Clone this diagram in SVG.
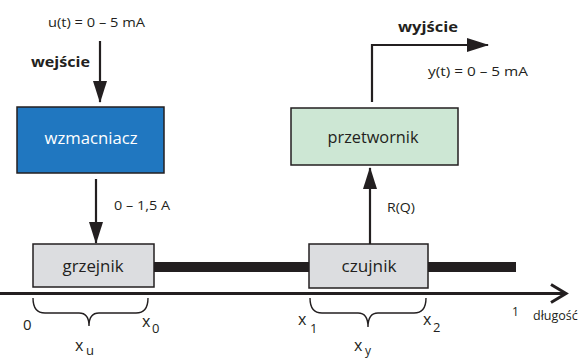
<svg xmlns="http://www.w3.org/2000/svg" width="587" height="360" viewBox="0 0 587 360">
<defs>
<style>
text{font-family:"Open Sans","Liberation Sans",sans-serif;fill:#231f20}
.lbl{font-size:12px}
.bold{font-size:15px;font-weight:bold}
.box{stroke:#231f20;stroke-width:1.5}
.boxt{font-size:16.5px;text-anchor:middle}
.wire{stroke:#231f20;stroke-width:2.2;fill:none}
.brace{stroke:#231f20;stroke-width:1.4;fill:none}
.xl{font-size:16px}
.sub{font-size:13px}
</style>
<marker id="ah" viewBox="0 0 22 14" refX="21" refY="7" markerWidth="22" markerHeight="14" markerUnits="userSpaceOnUse" orient="auto">
<path d="M0,0 L22,7 L0,14 z" fill="#231f20"/>
</marker>
</defs>
<rect width="587" height="360" fill="#ffffff"/>

<g id="rod">
<rect x="154" y="262" width="362" height="10" fill="#231f20"/>
</g>

<g id="axis">
<line x1="0" y1="293.5" x2="565" y2="293.5" stroke="#231f20" stroke-width="3"/>
<polyline points="551,284.5 566,293.5 551,302.5" fill="none" stroke="#231f20" stroke-width="3"/>
<text x="512" y="316" class="lbl">1</text>
<text x="533" y="320" style="font-size:12.5px">długość</text>
</g>

<g id="wzmacniacz">
<rect x="17" y="107" width="147" height="66" fill="#2077c0" class="box"/>
<text x="91" y="144" class="boxt" style="fill:#ffffff" textLength="93" lengthAdjust="spacingAndGlyphs">wzmacniacz</text>
</g>

<g id="grzejnik">
<rect x="33" y="244" width="121" height="43" fill="#dcdde0" class="box"/>
<text x="93" y="272" class="boxt" textLength="61" lengthAdjust="spacingAndGlyphs">grzejnik</text>
</g>

<g id="czujnik">
<rect x="309" y="244" width="119" height="44" fill="#dcdde0" class="box"/>
<text x="369" y="272" class="boxt" textLength="55" lengthAdjust="spacingAndGlyphs">czujnik</text>
</g>

<g id="przetwornik">
<rect x="291" y="108" width="167" height="57" fill="#cde7d4" class="box"/>
<text x="373" y="143" class="boxt" textLength="91" lengthAdjust="spacingAndGlyphs">przetwornik</text>
</g>

<g id="connectors">
<line x1="100" y1="41" x2="100" y2="102" class="wire" marker-end="url(#ah)"/>
<line x1="96" y1="179" x2="96" y2="243" class="wire" marker-end="url(#ah)"/>
<line x1="370" y1="244" x2="370" y2="168" class="wire" marker-end="url(#ah)"/>
<path d="M372,102 V45 H488" class="wire" marker-end="url(#ah)"/>
</g>

<g id="labels">
<text x="48" y="27" class="lbl" textLength="97" lengthAdjust="spacingAndGlyphs">u(t) = 0 – 5 mA</text>
<text x="31" y="67" class="bold" textLength="59" lengthAdjust="spacingAndGlyphs">wejście</text>
<text x="114" y="210" class="lbl" textLength="56" lengthAdjust="spacingAndGlyphs">0 – 1,5 A</text>
<text x="387" y="212" class="lbl" textLength="28" lengthAdjust="spacingAndGlyphs">R(Q)</text>
<text x="398" y="32" class="bold" textLength="60" lengthAdjust="spacingAndGlyphs">wyjście</text>
<text x="428" y="76" class="lbl" textLength="100" lengthAdjust="spacingAndGlyphs">y(t) = 0 – 5 mA</text>
</g>

<g id="brace-u">
<path d="M33,298 Q33,313 45,313 H79 Q89,313 89,326 Q89,313 99,313 H136 Q148,313 148,298" class="brace"/>
<text x="23" y="330" style="font-size:15px">0</text>
<text x="142" y="327" class="xl">x</text>
<text x="152" y="333" class="sub">0</text>
<text x="75" y="351" class="xl">x</text>
<text x="86" y="355" class="sub">u</text>
</g>

<g id="brace-y">
<path d="M310,298 Q310,313 322,313 H358 Q368,313 368,327 Q368,313 378,313 H414 Q426,313 426,298" class="brace"/>
<text x="298" y="325" class="xl">x</text>
<text x="310" y="333" class="sub">1</text>
<text x="423" y="325" class="xl">x</text>
<text x="433" y="332" class="sub">2</text>
<text x="354" y="351" class="xl">x</text>
<text x="365" y="355" style="font-size:12px">y</text>
</g>
</svg>
